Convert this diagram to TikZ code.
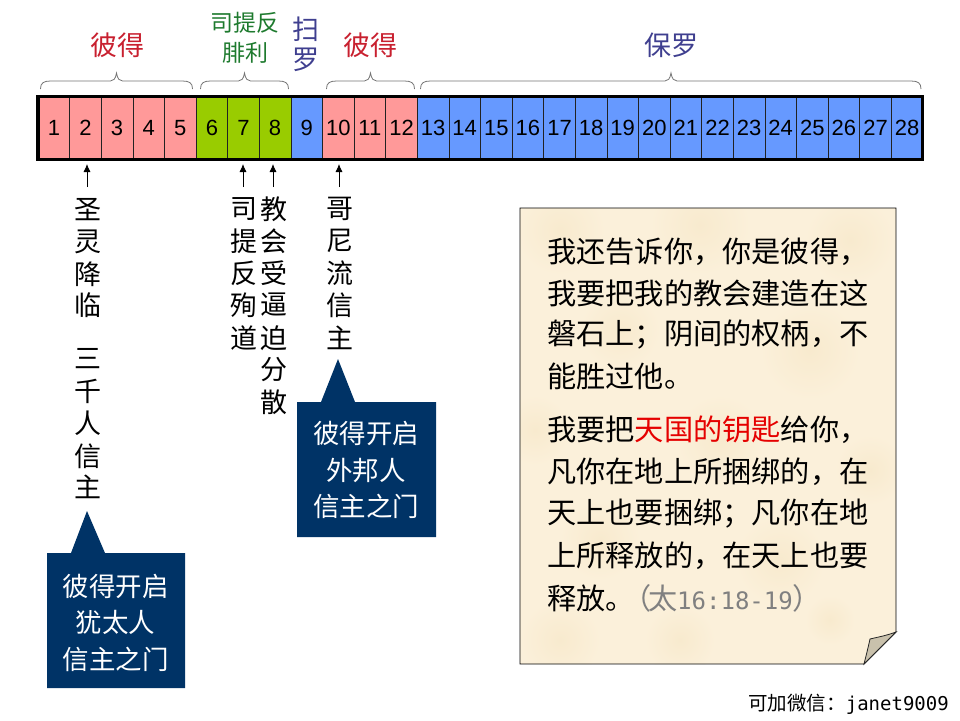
\documentclass[tikz,border=0pt]{standalone}
\usepackage{fontspec}
\setmainfont{Liberation Sans}
\newfontfamily\cjk{Noto Sans CJK SC}
\newfontfamily\lmono{DejaVu Sans Mono}
\usetikzlibrary{arrows.meta}
\definecolor{pinkc}{HTML}{FF9999}
\definecolor{greenc}{HTML}{99CC00}
\definecolor{bluec}{HTML}{6699FF}
\definecolor{navyc}{HTML}{003366}
\definecolor{redt}{HTML}{C8202F}
\definecolor{greent}{HTML}{1E7A2E}
\definecolor{bluet}{HTML}{3F3F8F}
\definecolor{paperc}{HTML}{FBF0DA}
\definecolor{spotc}{HTML}{F8EACE}
\definecolor{foldc}{HTML}{C9C1AC}
\definecolor{celll}{HTML}{222222}
\newcommand{\fs}[1]{\fontsize{#1}{#1}\selectfont}
\tikzset{
  cell/.style={draw=celll,line width=0.8pt,minimum width=31.6pt,minimum height=64pt,inner sep=0pt,anchor=west,font=\fs{22}},
  head/.style={inner sep=0pt,font=\cjk\fs{27}},
  headsm/.style={inner sep=0pt,font=\cjk\fs{23}},
  vert/.style={inner sep=0pt,font=\cjk\fs{27}},
  calltxt/.style={inner sep=0pt,text=white,font=\cjk\fs{26.5},align=center},
  noteline/.style={inner sep=0pt,anchor=west,font=\cjk\fs{29.2}},
  brace/.style={draw=black!55,line width=0.8pt},
  uparrow/.style={-{Latex[length=8pt,width=7pt]},line width=0.8pt},
}
\begin{document}
\begin{tikzpicture}[x=1pt,y=-1pt]
\useasboundingbox (0,0) rectangle (960,720);
% bar cells
\foreach \i in {1,...,28}{
  \pgfmathtruncatemacro{\k}{\i<=5?1:(\i<=8?2:(\i==9?3:(\i<=12?1:3)))}
  \ifnum\k=1 \def\col{pinkc}\fi
  \ifnum\k=2 \def\col{greenc}\fi
  \ifnum\k=3 \def\col{bluec}\fi
  \node[cell,fill=\col] (c\i) at ({37.7+(\i-1)*31.6},128) {\i};
}
\draw[line width=3.2pt,line join=miter] (38,96.8) rectangle (922.5,159.5);
% braces
\foreach \a/\b/\m in {40.5/192.5/116.5, 200.5/288.5/244.5, 326.5/414.5/370.5, 420.5/921/671}{
  \draw[brace] (\a,89) .. controls (\a,83) and (\a+3,81) .. (\a+10,81) -- (\m-6,81)
     .. controls (\m-3,81) and (\m-1,79) .. (\m,73) .. controls (\m+1,79) and (\m+3,81) .. (\m+6,81)
     -- (\b-10,81) .. controls (\b-3,81) and (\b,83) .. (\b,89);
}
% headings
\node[head,text=redt] (h1) at (117,45) {彼得};
\node[headsm,text=greent] (h2) at (245,23) {司提反};
\node[headsm,text=greent] (h3) at (245,53) {腓利};
\node[head,text=bluet] (h4) at (306,29) {扫};
\node[head,text=bluet] (h5) at (306,60) {罗};
\node[head,text=redt] (h6) at (370,45) {彼得};
\node[head,text=bluet] (h7) at (671,45) {保罗};
% vertical labels
\node[vert] (v11) at (88,210) {圣};
\node[vert] (v12) at (88,242) {灵};
\node[vert] (v13) at (88,274) {降};
\node[vert] (v14) at (88,305) {临};
\node[vert] (v15) at (88,359) {三};
\node[vert] (v16) at (88,391) {千};
\node[vert] (v17) at (88,423) {人};
\node[vert] (v18) at (88,456) {信};
\node[vert] (v19) at (88,487) {主};
\node[vert] (v21) at (244,209) {司};
\node[vert] (v22) at (244,241) {提};
\node[vert] (v23) at (244,273) {反};
\node[vert] (v24) at (244,305) {殉};
\node[vert] (v25) at (244,338) {道};
\node[vert] (v31) at (274,209) {教};
\node[vert] (v32) at (274,241) {会};
\node[vert] (v33) at (274,273) {受};
\node[vert] (v34) at (274,305) {逼};
\node[vert] (v35) at (274,338) {迫};
\node[vert] (v36) at (274,370) {分};
\node[vert] (v37) at (274,402) {散};
\node[vert] (v41) at (340,209) {哥};
\node[vert] (v42) at (340,241) {尼};
\node[vert] (v43) at (340,273) {流};
\node[vert] (v44) at (340,305) {信};
\node[vert] (v45) at (340,338) {主};
% arrows
\coordinate (a1) at (87,164);
\coordinate (a2) at (243,164);
\coordinate (a3) at (273,164);
\coordinate (a4) at (339,164);
\coordinate (b1) at (87,187);
\coordinate (b2) at (243,187);
\coordinate (b3) at (273,187);
\coordinate (b4) at (339,187);
\draw[uparrow] (b1) -- (a1);
\draw[uparrow] (b2) -- (a2);
\draw[uparrow] (b3) -- (a3);
\draw[uparrow] (b4) -- (a4);
% callouts
\fill[navyc] (47,553) -- (71,553) -- (87,511) -- (105,553) -- (185,553) -- (185,688) -- (47,688) -- cycle;
\fill[navyc] (297,402) -- (321,402) -- (338,359) -- (355,402) -- (436,402) -- (436,537) -- (297,537) -- cycle;
\node[calltxt] (t1) at (115.5,586) {彼得开启};
\node[calltxt] (t2) at (115.5,622) {犹太人};
\node[calltxt] (t3) at (115.5,659) {信主之门};
\node[calltxt] (t4) at (366,433) {彼得开启};
\node[calltxt] (t5) at (366,470) {外邦人};
\node[calltxt] (t6) at (366,506) {信主之门};
% note
\begin{scope}
\clip (520,208) -- (896,208) -- (896,632) -- (864,664) -- (520,664) -- cycle;
\fill[paperc] (520,208) rectangle (896,664);
\foreach \x/\y/\r in {560/230/45, 700/225/50, 850/240/45, 620/330/40, 810/350/50, 535/430/35, 720/440/45, 870/470/35, 600/540/40, 780/560/45, 560/640/40, 680/640/35, 830/620/25}{
  \shade[inner color=spotc,outer color=paperc] (\x,\y) circle (\r);
}
\end{scope}
\draw[line width=0.8pt,draw=black] (520,208) -- (896,208) -- (896,632) -- (864,664) -- (520,664) -- cycle;
\draw[fill=foldc,line width=0.8pt,draw=black!85] (896,632) .. controls (885,636) and (878,637) .. (870,639) .. controls (868,648) and (866,656) .. (864,664) -- cycle;
\node[noteline] (n1) at (547,252) {我还告诉你，你是彼得，};
\node[noteline] (n2) at (547,293) {我要把我的教会建造在这};
\node[noteline] (n3) at (547,335) {磐石上；阴间的权柄，不};
\node[noteline] (n4) at (547,376) {能胜过他。};
\node[noteline] (n5) at (547,430) {我要把\textcolor{red!90!black}{天国的钥匙}给你，};
\node[noteline] (n6) at (547,472) {凡你在地上所捆绑的，在};
\node[noteline] (n7) at (547,514) {天上也要捆绑；凡你在地};
\node[noteline] (n8) at (547,556) {上所释放的，在天上也要};
\node[noteline] (n9) at (547,598) {释放。\textcolor{black!50}{\hspace{-12pt}（\hspace{-4pt}太{\lmono\fs{24}16:18-19}）}};
% footer
\node[inner sep=0pt,anchor=east,font=\cjk\fs{19.5}] (ft) at (949,704) {可加微信：{\lmono\fs{19}janet9009}};
\end{tikzpicture}
\end{document}
